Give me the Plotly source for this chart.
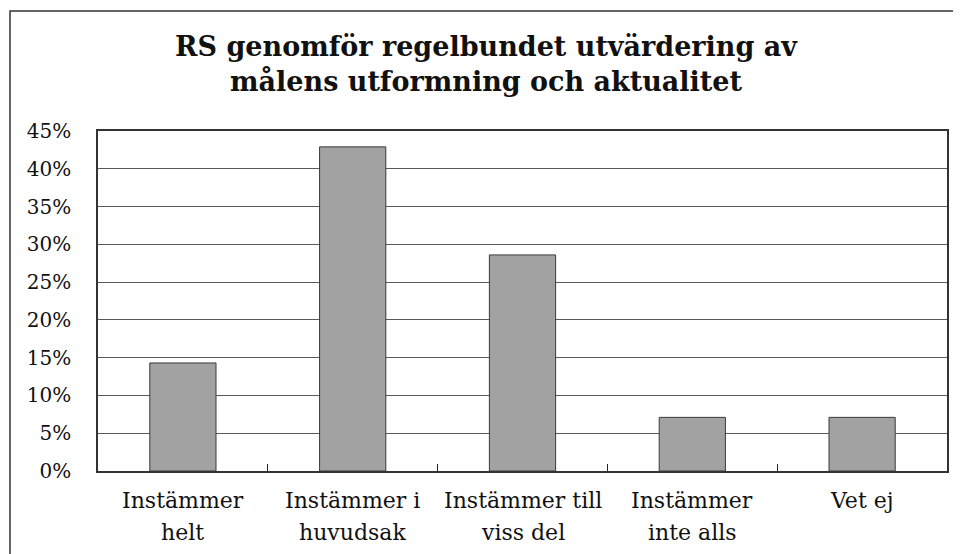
import plotly.graph_objects as go

# survey answers (share of respondents)
categories = ["Instämmer\nhelt", "Instämmer i\nhuvudsak", "Instämmer till\nviss del",
              "Instämmer\ninte alls", "Vet ej"]
shares = [0.143, 0.429, 0.286, 0.071, 0.071]
y_ticks = [0, 0.05, 0.10, 0.15, 0.20, 0.25, 0.30, 0.35, 0.40, 0.45]
y_tick_labels = ["0%", "5%", "10%", "15%", "20%", "25%", "30%", "35%", "40%", "45%"]
title_lines = ["RS genomför regelbundet utvärdering av", "målens utformning och aktualitet"]

FONT = "DejaVu Serif"
# the page body has an 8px margin, so the figure is drawn 8px smaller
W, H = 953, 546
L, R, T, B = 90, 14, 123, 83

fig = go.Figure()
fig.add_trace(go.Bar(
    x=categories,
    y=shares,
    marker=dict(color="#a2a2a2", line=dict(color="#3a3a3a", width=1)),
    hoverinfo="skip",
))

fig.update_layout(
    width=W, height=H,
    margin=dict(l=L, r=R, t=T, b=B),
    paper_bgcolor="white",
    plot_bgcolor="white",
    bargap=0.61,
    showlegend=False,
    font=dict(family=FONT, size=20, color="#111"),
    title=dict(
        text="<b>" + "<br>".join(title_lines) + "</b>",
        x=478 / W, xanchor="center",
        y=1 - 48 / H, yanchor="top",
        font=dict(family=FONT, size=27, color="#111"),
    ),
)

fig.update_xaxes(
    type="category",
    showticklabels=False,
    ticks="inside", tickson="boundaries", ticklen=7, tickcolor="#222",
    showline=True, linecolor="#333", linewidth=1.5, mirror=True,
    showgrid=False,
)
fig.update_yaxes(
    range=[0, 0.45],
    tickvals=y_ticks, ticktext=y_tick_labels,
    ticks="", ticklabelstandoff=21,
    tickfont=dict(family=FONT, size=20, color="#111"),
    showgrid=True, gridcolor="#5a5a5a", gridwidth=1,
    showline=True, linecolor="#333", linewidth=1.5, mirror=True,
    zeroline=False,
)

# category labels, one annotation per text line so the line spacing matches
for cat in categories:
    for i, line in enumerate(cat.split("\n")):
        fig.add_annotation(
            x=cat, xref="x", y=-(30 + 31 * i) / (H - T - B), yref="paper",
            text=line, showarrow=False, yanchor="middle",
            font=dict(family=FONT, size=22, color="#111"),
        )

# outer frame of the scanned chart (left and top edge visible)
pw, ph = W - L - R, H - T - B
fig.add_shape(
    type="rect", xref="paper", yref="paper",
    x0=(2 - L) / pw, x1=(W + 5 - L) / pw,
    y0=-(B + 5) / ph, y1=1 + (T - 3) / ph,
    line=dict(color="#333", width=1.5), layer="below",
)

fig.write_html("out.html")
